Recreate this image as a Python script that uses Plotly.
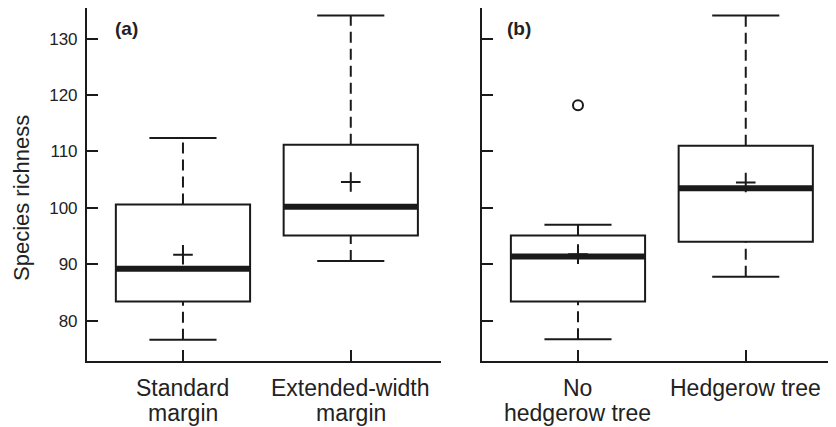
import plotly.graph_objects as go

# ---- data ----
groups_a = ["Standard<br>margin", "Extended-width<br>margin"]
q1_a = [83.4, 95.1]
med_a = [89.2, 100.2]
q3_a = [100.6, 111.2]
lo_a = [76.6, 90.6]
hi_a = [112.4, 134.1]
mean_a = [91.7, 104.6]
out_a = [[], []]

groups_b = ["No<br>hedgerow tree", "Hedgerow tree"]
q1_b = [83.4, 94.0]
med_b = [91.4, 103.5]
q3_b = [95.1, 111.0]
lo_b = [76.7, 87.8]
hi_b = [97.0, 134.1]
mean_b = [91.8, 104.5]
out_b = [[118.2], []]

y_ticks = [80, 90, 100, 110, 120, 130]

# ---- style ----
INK = "#1a1a1a"
TXT = "#222"
FONT = "Liberation Sans, Arial, sans-serif"
BW = 0.8      # box width (category units)
CW = 0.4      # whisker cap width
LW = 2

# page body has an 8px margin: figure is sized to fill the rest of the window
W, H = 828, 419

fig = go.Figure()


def add_panel(xa, ya, q1, med, q3, lo, hi, mean, outs):
    for i in range(len(q1)):
        fig.add_trace(go.Box(
            x=[i], q1=[q1[i]], median=[med[i]], q3=[q3[i]],
            lowerfence=[q1[i]], upperfence=[q3[i]],
            width=BW, whiskerwidth=0, boxpoints=False,
            fillcolor="white", line=dict(color=INK, width=LW),
            xaxis=xa, yaxis=ya, showlegend=False, hoverinfo="skip"))
        for a, b in ((q3[i], hi[i]), (lo[i], q1[i])):
            fig.add_trace(go.Scatter(
                x=[i, i], y=[a, b], mode="lines",
                line=dict(color=INK, width=LW, dash="11px,6px"),
                xaxis=xa, yaxis=ya, showlegend=False, hoverinfo="skip"))
        for v in (hi[i], lo[i]):
            fig.add_trace(go.Scatter(
                x=[i - CW / 2, i + CW / 2], y=[v, v], mode="lines",
                line=dict(color=INK, width=LW),
                xaxis=xa, yaxis=ya, showlegend=False, hoverinfo="skip"))
        fig.add_trace(go.Scatter(
            x=[i - BW / 2, i + BW / 2], y=[med[i], med[i]], mode="lines",
            line=dict(color=INK, width=6),
            xaxis=xa, yaxis=ya, showlegend=False, hoverinfo="skip"))
        fig.add_trace(go.Scatter(
            x=[i], y=[mean[i]], mode="markers",
            marker=dict(symbol="cross-thin", size=14,
                        line=dict(color=INK, width=2)),
            xaxis=xa, yaxis=ya, showlegend=False, hoverinfo="skip"))
        if outs[i]:
            fig.add_trace(go.Scatter(
                x=[i] * len(outs[i]), y=outs[i], mode="markers",
                marker=dict(symbol="circle-open", size=10,
                            line=dict(color=INK, width=2), color=INK),
                xaxis=xa, yaxis=ya, showlegend=False, hoverinfo="skip"))


add_panel("x", "y", q1_a, med_a, q3_a, lo_a, hi_a, mean_a, out_a)
add_panel("x2", "y2", q1_b, med_b, q3_b, lo_b, hi_b, mean_b, out_b)

xrange = [-0.572, 1.538]
yrange = [72.85, 135.44]
ydom = [0.1575, 1.0]

common_x = dict(range=xrange, showline=True, linecolor=INK, linewidth=LW,
                ticks="inside", ticklen=11, tickwidth=LW, tickcolor=INK,
                showgrid=False, zeroline=False, tickmode="array",
                tickvals=[0, 1], showticklabels=False)
common_y = dict(range=yrange, domain=ydom, showline=True, linecolor=INK,
                linewidth=LW, ticks="inside", ticklen=11, tickwidth=LW,
                tickcolor=INK, showgrid=False, zeroline=False,
                tickmode="array", tickvals=y_ticks)

annotations = [
    dict(text="Species richness", x=0.0157, y=0.5465, xref="paper",
         yref="paper", textangle=-90, showarrow=False,
         font=dict(family=FONT, size=22, color=TXT),
         xanchor="center", yanchor="middle"),
    dict(text="<b>(a)</b>", x=0.1431, y=0.9511, xref="paper",
         yref="paper", showarrow=False,
         font=dict(family=FONT, size=19, color=TXT),
         xanchor="center", yanchor="middle"),
    dict(text="<b>(b)</b>", x=0.6171, y=0.9511, xref="paper",
         yref="paper", showarrow=False,
         font=dict(family=FONT, size=19, color=TXT),
         xanchor="center", yanchor="middle"),
]

# category labels, one annotation per line for tight line spacing
line_y = [0.0919, 0.0346]
for xa, groups in (("x", groups_a), ("x2", groups_b)):
    for i, label in enumerate(groups):
        for k, part in enumerate(label.split("<br>")):
            annotations.append(dict(
                text=part, x=i, y=line_y[k], xref=xa, yref="paper",
                showarrow=False, xanchor="center", yanchor="middle",
                font=dict(family=FONT, size=23, color=TXT)))

fig.update_layout(
    width=W, height=H,
    margin=dict(l=0, r=0, t=0, b=0),
    paper_bgcolor="white", plot_bgcolor="white",
    font=dict(family=FONT, color=TXT),
    xaxis=dict(common_x, domain=[0.0954, 0.5230], anchor="y"),
    xaxis2=dict(common_x, domain=[0.5725, 1.0], anchor="y2"),
    yaxis=dict(common_y, anchor="x", ticklabelstandoff=4,
               tickfont=dict(family=FONT, size=17, color=TXT)),
    yaxis2=dict(common_y, anchor="x2", showticklabels=False),
    annotations=annotations,
)

fig.write_html("out.html")
